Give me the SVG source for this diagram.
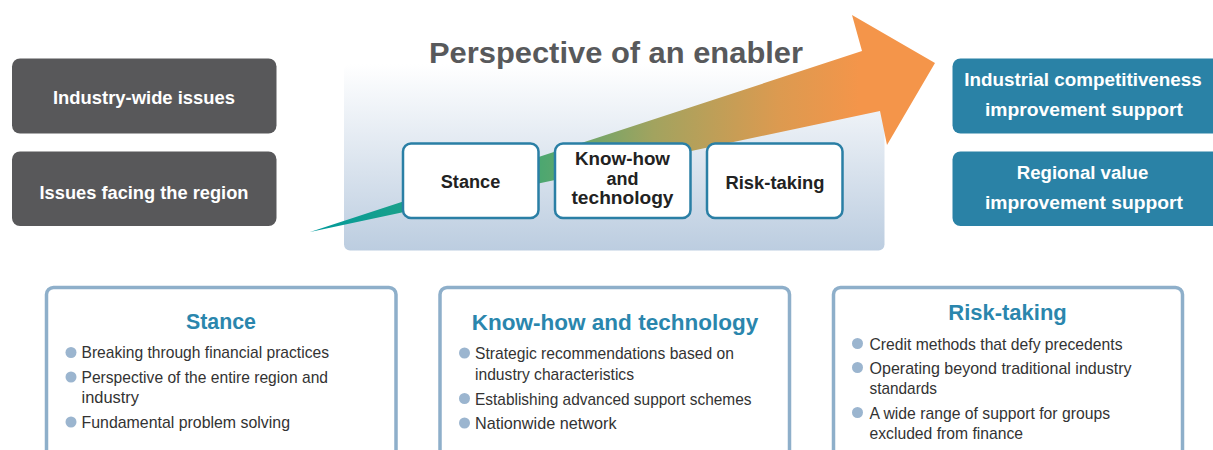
<svg xmlns="http://www.w3.org/2000/svg" width="1213" height="450" viewBox="0 0 1213 450">
<defs>
<linearGradient id="bgGrad" x1="0" y1="64" x2="0" y2="250" gradientUnits="userSpaceOnUse">
<stop offset="0" stop-color="#ffffff"/>
<stop offset="1" stop-color="#bccde0"/>
</linearGradient>
<linearGradient id="arrowGrad" x1="310" y1="0" x2="935" y2="0" gradientUnits="userSpaceOnUse">
<stop offset="0" stop-color="#009a9c"/>
<stop offset="0.33" stop-color="#3aa874"/>
<stop offset="0.55" stop-color="#a2a35f"/>
<stop offset="0.75" stop-color="#dc9a50"/>
<stop offset="0.88" stop-color="#f4954a"/>
<stop offset="1" stop-color="#f4954a"/>
</linearGradient>
<style>
.dark{fill:#58585a}
.blue{fill:#2a82a6}
.wt{fill:#ffffff;font-family:"Liberation Sans",Arial,sans-serif;font-weight:bold;font-size:18px;text-anchor:middle}
.mid{fill:#ffffff;stroke:#2a7fa5;stroke-width:2.5}
.mt{fill:#222222;font-family:"Liberation Sans",Arial,sans-serif;font-weight:bold;font-size:18px;text-anchor:middle}
.card{fill:#ffffff;stroke:#8eafca;stroke-width:3.5}
.ct{fill:#2a86ad;font-family:"Liberation Sans",Arial,sans-serif;font-weight:bold;font-size:22px;text-anchor:middle}
.bt{fill:#333333;font-family:"Liberation Sans",Arial,sans-serif;font-size:17px}
.dot{fill:#9bb5cf}
.title{fill:#58595b;font-family:"Liberation Sans",Arial,sans-serif;font-weight:bold;font-size:30px;text-anchor:middle}
</style>
</defs>

<rect x="0" y="0" width="1213" height="450" fill="#ffffff"/>

<g id="enabler-panel">
<rect x="344" y="64" width="540.5" height="186.5" rx="6" fill="url(#bgGrad)"/>
<text class="title" x="616" y="63" textLength="374" lengthAdjust="spacingAndGlyphs">Perspective of an enabler</text>
</g>

<g id="connectors">
<path d="M310,232 L862,51 L852,15 L935,63 L887,145 L880,111 Z" fill="url(#arrowGrad)"/>
</g>

<g id="issue-industry">
<rect class="dark" x="12" y="58.5" width="264.5" height="75" rx="8"/>
<text class="wt" x="144" y="103.5" textLength="182" lengthAdjust="spacingAndGlyphs">Industry-wide issues</text>
</g>
<g id="issue-region">
<rect class="dark" x="12" y="151.5" width="264.5" height="74.5" rx="8"/>
<text class="wt" x="144" y="198.5" textLength="209" lengthAdjust="spacingAndGlyphs">Issues facing the region</text>
</g>

<g id="result-industrial">
<rect class="blue" x="952.5" y="58.5" width="275" height="75" rx="8"/>
<text class="wt" x="1083" y="86" textLength="237.5" lengthAdjust="spacingAndGlyphs">Industrial competitiveness</text>
<text class="wt" x="1084" y="115.5" textLength="198" lengthAdjust="spacingAndGlyphs">improvement support</text>
</g>
<g id="result-regional">
<rect class="blue" x="952.5" y="151.5" width="275" height="74.5" rx="8"/>
<text class="wt" x="1082.5" y="178.5" textLength="131.5" lengthAdjust="spacingAndGlyphs">Regional value</text>
<text class="wt" x="1084" y="208.5" textLength="198" lengthAdjust="spacingAndGlyphs">improvement support</text>
</g>

<g id="mid-stance">
<rect class="mid" x="403" y="143.5" width="135.5" height="74.5" rx="8"/>
<text class="mt" x="470.5" y="187.5" textLength="59.5" lengthAdjust="spacingAndGlyphs">Stance</text>
</g>
<g id="mid-knowhow">
<rect class="mid" x="555" y="143.5" width="135.5" height="74.5" rx="8"/>
<text class="mt" x="622.5" y="165" textLength="95" lengthAdjust="spacingAndGlyphs">Know-how</text>
<text class="mt" x="622.5" y="184.5">and</text>
<text class="mt" x="622.5" y="204" textLength="102" lengthAdjust="spacingAndGlyphs">technology</text>
</g>
<g id="mid-risk">
<rect class="mid" x="707" y="143.5" width="135.5" height="74.5" rx="8"/>
<text class="mt" x="775" y="188.5" textLength="99" lengthAdjust="spacingAndGlyphs">Risk-taking</text>
</g>

<g id="card-stance">
<rect class="card" x="46.5" y="287.5" width="349.5" height="200" rx="7"/>
<text class="ct" x="221" y="328.5" textLength="70" lengthAdjust="spacingAndGlyphs">Stance</text>
<circle class="dot" cx="71" cy="352.5" r="5.5"/>
<text class="bt" x="81.5" y="358" textLength="247.5" lengthAdjust="spacingAndGlyphs">Breaking through financial practices</text>
<circle class="dot" cx="71" cy="377" r="5.5"/>
<text class="bt" x="81.5" y="382.5" textLength="246.5" lengthAdjust="spacingAndGlyphs">Perspective of the entire region and</text>
<text class="bt" x="81.5" y="403" textLength="57.5" lengthAdjust="spacingAndGlyphs">industry</text>
<circle class="dot" cx="71" cy="422" r="5.5"/>
<text class="bt" x="81.5" y="428" textLength="208.5" lengthAdjust="spacingAndGlyphs">Fundamental problem solving</text>
</g>

<g id="card-knowhow">
<rect class="card" x="440" y="287.5" width="349.5" height="200" rx="7"/>
<text class="ct" x="615" y="330" textLength="286.5" lengthAdjust="spacingAndGlyphs">Know-how and technology</text>
<circle class="dot" cx="464.5" cy="353" r="5.5"/>
<text class="bt" x="475" y="359" textLength="259" lengthAdjust="spacingAndGlyphs">Strategic recommendations based on</text>
<text class="bt" x="475" y="380" textLength="159" lengthAdjust="spacingAndGlyphs">industry characteristics</text>
<circle class="dot" cx="464.5" cy="398.5" r="5.5"/>
<text class="bt" x="475" y="405" textLength="276.5" lengthAdjust="spacingAndGlyphs">Establishing advanced support schemes</text>
<circle class="dot" cx="464.5" cy="423" r="5.5"/>
<text class="bt" x="475" y="429" textLength="141.5" lengthAdjust="spacingAndGlyphs">Nationwide network</text>
</g>

<g id="card-risk">
<rect class="card" x="833.5" y="287.5" width="349" height="200" rx="7"/>
<text class="ct" x="1007.5" y="319.5" textLength="118.5" lengthAdjust="spacingAndGlyphs">Risk-taking</text>
<circle class="dot" cx="857.5" cy="343.5" r="5.5"/>
<text class="bt" x="869.5" y="350" textLength="253" lengthAdjust="spacingAndGlyphs">Credit methods that defy precedents</text>
<circle class="dot" cx="857.5" cy="367.5" r="5.5"/>
<text class="bt" x="869.5" y="373.5" textLength="262" lengthAdjust="spacingAndGlyphs">Operating beyond traditional industry</text>
<text class="bt" x="869.5" y="393.5" textLength="67.5" lengthAdjust="spacingAndGlyphs">standards</text>
<circle class="dot" cx="857.5" cy="412.5" r="5.5"/>
<text class="bt" x="869.5" y="418.5" textLength="240.5" lengthAdjust="spacingAndGlyphs">A wide range of support for groups</text>
<text class="bt" x="869.5" y="438.5" textLength="153.5" lengthAdjust="spacingAndGlyphs">excluded from finance</text>
</g>
</svg>
